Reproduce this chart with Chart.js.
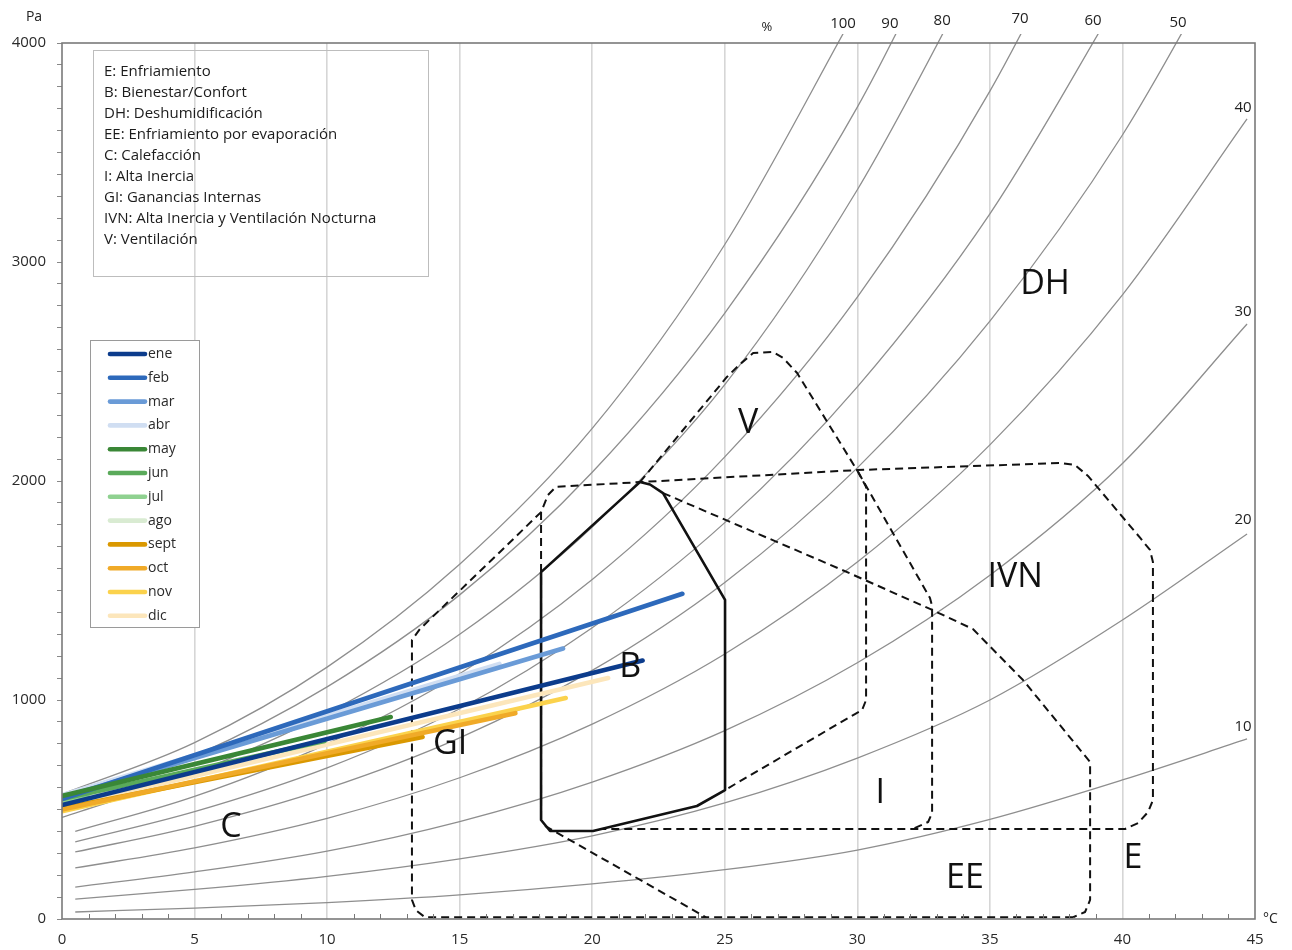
<!DOCTYPE html>
<html><head><meta charset="utf-8">
<script src="https://cdn.jsdelivr.net/npm/chart.js@4.4.1/dist/chart.umd.min.js"></script>
<style>html,body{margin:0;padding:0;background:#fff}#wrap{width:1292px;height:950px;position:relative}</style>
</head><body><div id="wrap"><canvas id="c" width="1292" height="950"></canvas></div>
<script>
const FONT = '"Open Sans", "DejaVu Sans", sans-serif';

// ---- relative humidity curves (°C, Pa) ----
const rhNames = ['100','90','80','70','60','50','40','30','20','10'];
const rh100T = [0,5,10,15,20,25,30];                 const rh100P = [570,805,1150,1620,2240,3080,4160];
const rh90T  = [0,5,10,15,20,25,30,35];              const rh90P  = [525,745,1060,1480,2040,2767,3707,4920];
const rh80T  = [0,5,10,15,20,25,30,35];              const rh80P  = [464,668,940,1300,1790,2440,3330,4450];
const rh70T  = [0.5,5,10,15,20,25,30,35,40];         const rh70P  = [400,560,800,1120,1550,2110,2840,3780,4960];
const rh60T  = [0.5,5,10,15,20,25,30,35,40];         const rh60P  = [352,490,690,960,1330,1810,2430,3220,4230];
const rh50T  = [0.5,5,10,15,20,25,30,35,40,45];      const rh50P  = [306,423,596,827,1135,1537,2060,2730,3580,4650];
const rh40T  = [0.5,5,10,15,20,25,30,35,40,44.7];    const rh40P  = [233,325,460,645,890,1210,1630,2165,2850,3653];
const rh30T  = [0.5,5,10,15,20,25,30,35,40,44.7];    const rh30P  = [146,215,310,445,625,860,1170,1570,2080,2717];
const rh20T  = [0.5,5,10,15,20,25,30,35,40,44.7];    const rh20P  = [91,135,195,275,380,530,735,1000,1365,1758];
const rh10T  = [0.5,5,10,15,20,25,30,35,40,44.7];    const rh10P  = [32,50,75,110,160,225,315,455,635,822];

// ---- monthly lines (start / end) ----
const months  = ['ene','feb','mar','abr','may','jun','jul','ago','sept','oct','nov','dic'];
const monthT0 = [0,0,0,0,0,0,0,0,0,0,0,0];
const monthP0 = [520,548,555,565,562,548,540,552,505,500,492,510];
const monthT1 = [21.9,23.4,18.9,16.5,12.4,9.9,1.0,2.0,13.6,17.1,19.0,20.6];
const monthP1 = [1180,1485,1235,1165,922,813,556,590,831,940,1009,1100];
const monthColors = ['#0c3c8c','#2d69bb','#6a9bd7','#d0def2','#3a8736','#5aaa5a','#8fd190','#d9ebd2','#da9800','#f0aa28','#fbd24c','#fce6bb'];
const monthDrawOrder = [1,3,4,12,2,7,8,11,6,5,9,10];

// ---- bioclimatic zones (°C, Pa) ----
const zoneB_T = [18.07,21.80,22.18,22.67,25.01,25.01,23.95,20.03,18.41,18.07,18.07];
const zoneB_P = [1584,1995,1984,1945,1457,589,516,402,402,452,1584];
const outerT  = [38.14,13.69,13.35,13.20,13.20,13.50,16.52,18.07,18.33,18.63,21.80,29.99,37.65,38.21,38.70,40.67,41.04,41.15,41.15,40.97,40.59,40.10,20.29];
const outerP  = [8,8,40,87,1274,1324,1676,1858,1936,1973,1995,2050,2082,2073,2023,1740,1685,1630,543,489,438,411,411];
const ivnLeftT = [18.07,18.07];                        const ivnLeftP = [1858,452];
const ventT = [21.80,25.08,25.58,26.07,26.82,27.20,27.73,30.03,30.33,30.33,30.18,29.91,25.01];
const ventP = [1995,2475,2534,2584,2589,2562,2493,2041,1973,1000,954,936,589];
const inerT = [30.03,32.74,32.82,32.82,32.67,31.99];   const inerP = [2041,1466,1429,484,443,406];
const evapT = [22.67,29.35,32.74,34.36,36.25,38.78,38.78,38.59,38.14];
const evapP = [1945,1598,1416,1324,1091,717,87,32,8];
const evapLeftT = [18.22,24.29];                       const evapLeftP = [425,8];

const zoneLabels = ['DH','V','IVN','B','GI','C','I','EE','E'];
const zoneLabelT = [37.08,25.88,35.95,21.43,14.64,6.37,30.86,34.06,40.40];
const zoneLabelP = [2900,2265,1562,1151,799,420,575,187,279];

const definitions = ['E: Enfriamiento','B: Bienestar/Confort','DH: Deshumidificación','EE: Enfriamiento por evaporación','C: Calefacción','I: Alta Inercia','GI: Ganancias Internas','IVN: Alta Inercia y Ventilación Nocturna','V: Ventilación'];

const rhTopNames = ['100','90','80','70','60','50'];
const rhTopT = [29.46,31.23,33.20,36.14,38.89,42.10];
const rhSideNames = ['40','30','20','10'];
const rhSideP = [3703,2772,1822,877];

// ---- build datasets ----
const pts = (T,P) => T.map((t,i)=>({x:t,y:P[i]}));
const datasets = [];
const rhT = [rh100T,rh90T,rh80T,rh70T,rh60T,rh50T,rh40T,rh30T,rh20T,rh10T];
const rhP = [rh100P,rh90P,rh80P,rh70P,rh60P,rh50P,rh40P,rh30P,rh20P,rh10P];
rhNames.forEach((n,i)=>datasets.push({label:'HR '+n, data:pts(rhT[i],rhP[i]), borderColor:'#8e8e8e', borderWidth:1.3,
  pointRadius:0, cubicInterpolationMode:'monotone', fill:false, order:50, clip:{left:0,top:9,right:0,bottom:0}}));
const dashed = (lbl,T,P)=>({label:lbl, data:pts(T,P), borderColor:'#111', borderWidth:2, borderDash:[8,5], pointRadius:0, tension:0, fill:false, order:30});
datasets.push(dashed('outer',outerT,outerP));
datasets.push(dashed('IVN left',ivnLeftT,ivnLeftP));
datasets.push(dashed('V',ventT,ventP));
datasets.push(dashed('I',inerT,inerP));
datasets.push(dashed('EE',evapT,evapP));
datasets.push(dashed('EE left',evapLeftT,evapLeftP));
datasets.push({label:'B', data:pts(zoneB_T,zoneB_P), borderColor:'#111', borderWidth:2.6, pointRadius:0, tension:0, fill:false, order:20, borderJoinStyle:'round'});
months.forEach((m,i)=>datasets.push({label:m, data:[{x:monthT0[i],y:monthP0[i]},{x:monthT1[i],y:monthP1[i]}],
  borderColor:monthColors[i], borderWidth:4.6, borderCapStyle:'round', pointRadius:0, fill:false, order:monthDrawOrder[i]}));

const decor = {
  id:'decor',
  afterDatasetsDraw(chart){
    const ctx = chart.ctx, a = chart.chartArea, xs = chart.scales.x, ys = chart.scales.y;
    ctx.save();
    // minor x ticks inside
    ctx.strokeStyle = '#777'; ctx.lineWidth = 1;
    for (let t=1;t<45;t++){ if (t%5===0) continue; const px = Math.round(xs.getPixelForValue(t))+0.5;
      ctx.beginPath(); ctx.moveTo(px,a.bottom); ctx.lineTo(px,a.bottom-5); ctx.stroke(); }
    // frame
    ctx.strokeStyle = '#7a7a7a'; ctx.lineWidth = 1.6;
    ctx.strokeRect(a.left, a.top, a.right-a.left, a.bottom-a.top);
    // zone labels
    ctx.fillStyle = '#111'; ctx.font = '34px '+FONT; ctx.textAlign='center'; ctx.textBaseline='middle';
    zoneLabels.forEach((s,i)=>ctx.fillText(s, xs.getPixelForValue(zoneLabelT[i]), ys.getPixelForValue(zoneLabelP[i])));
    // RH labels
    ctx.fillStyle = '#222'; ctx.font = '15px '+FONT;
    const topOff = [19,19,22,24,22,20];
    rhTopNames.forEach((s,i)=>ctx.fillText(s, xs.getPixelForValue(rhTopT[i]), a.top-topOff[i]));
    ctx.font = '13px '+FONT; ctx.fillText('%', xs.getPixelForValue(26.59), a.top-16);
    ctx.font = '15px '+FONT;
    rhSideNames.forEach((s,i)=>ctx.fillText(s, a.right-12, ys.getPixelForValue(rhSideP[i])));
    // axis units
    ctx.font = '14px '+FONT; ctx.fillText('Pa', 34, 17);
    ctx.textAlign='left'; ctx.fillText('°C', a.right+8, a.bottom);
    // definitions box
    ctx.strokeStyle = '#bdbdbd'; ctx.lineWidth = 1;
    ctx.strokeRect(93.5, 50.5, 335, 226);
    ctx.fillStyle = '#1c1c1c'; ctx.font = '15px '+FONT; ctx.textAlign='left'; ctx.textBaseline='middle';
    definitions.forEach((s,i)=>ctx.fillText(s, 104, 72+i*21));
    // month legend
    ctx.fillStyle = '#fff'; ctx.fillRect(90,340,109,287);
    ctx.strokeStyle = '#9a9a9a'; ctx.strokeRect(90.5,340.5,109,287);
    ctx.lineCap = 'round';
    months.forEach((m,i)=>{ const y = 354 + i*23.8;
      ctx.strokeStyle = monthColors[i]; ctx.lineWidth = 4.6;
      ctx.beginPath(); ctx.moveTo(110,y); ctx.lineTo(145,y); ctx.stroke();
      ctx.fillStyle = '#2a2a2a'; ctx.font = '14px '+FONT; ctx.fillText(m, 148, y); });
    ctx.restore();
  }
};

new Chart(document.getElementById('c'), {
  type:'line',
  data:{datasets},
  options:{
    responsive:false, animation:false, devicePixelRatio:1,
    layout:{padding:{top:43,right:37,left:0,bottom:0}},
    plugins:{legend:{display:false}, tooltip:{enabled:false}},
    elements:{line:{borderJoinStyle:'round'}},
    scales:{
      x:{type:'linear', min:0, max:45,
        afterFit:(s)=>{s.height=31;},
        border:{display:false},
        grid:{drawTicks:false, lineWidth:1.6,
          color:(c)=>{const v=c.tick?c.tick.value:0; return (v%5===0 && v>0 && v<45)?'#d6d6d6':'rgba(0,0,0,0)';}},
        ticks:{stepSize:1, autoSkip:false, maxRotation:0, padding:12, color:'#2a2a2a', font:{family:FONT, size:15},
          callback:(v)=> (v%5===0? String(v):'')}},
      y:{type:'linear', min:0, max:4000,
        afterFit:(s)=>{s.width=62;},
        border:{display:false},
        grid:{drawOnChartArea:false, drawTicks:true, tickLength:5, tickColor:'#888', lineWidth:1},
        ticks:{stepSize:100, autoSkip:false, padding:11, color:'#2a2a2a', font:{family:FONT, size:15},
          callback:(v)=> (v%1000===0? String(v):'')}}
    }
  },
  plugins:[decor]
});
</script></body></html>
